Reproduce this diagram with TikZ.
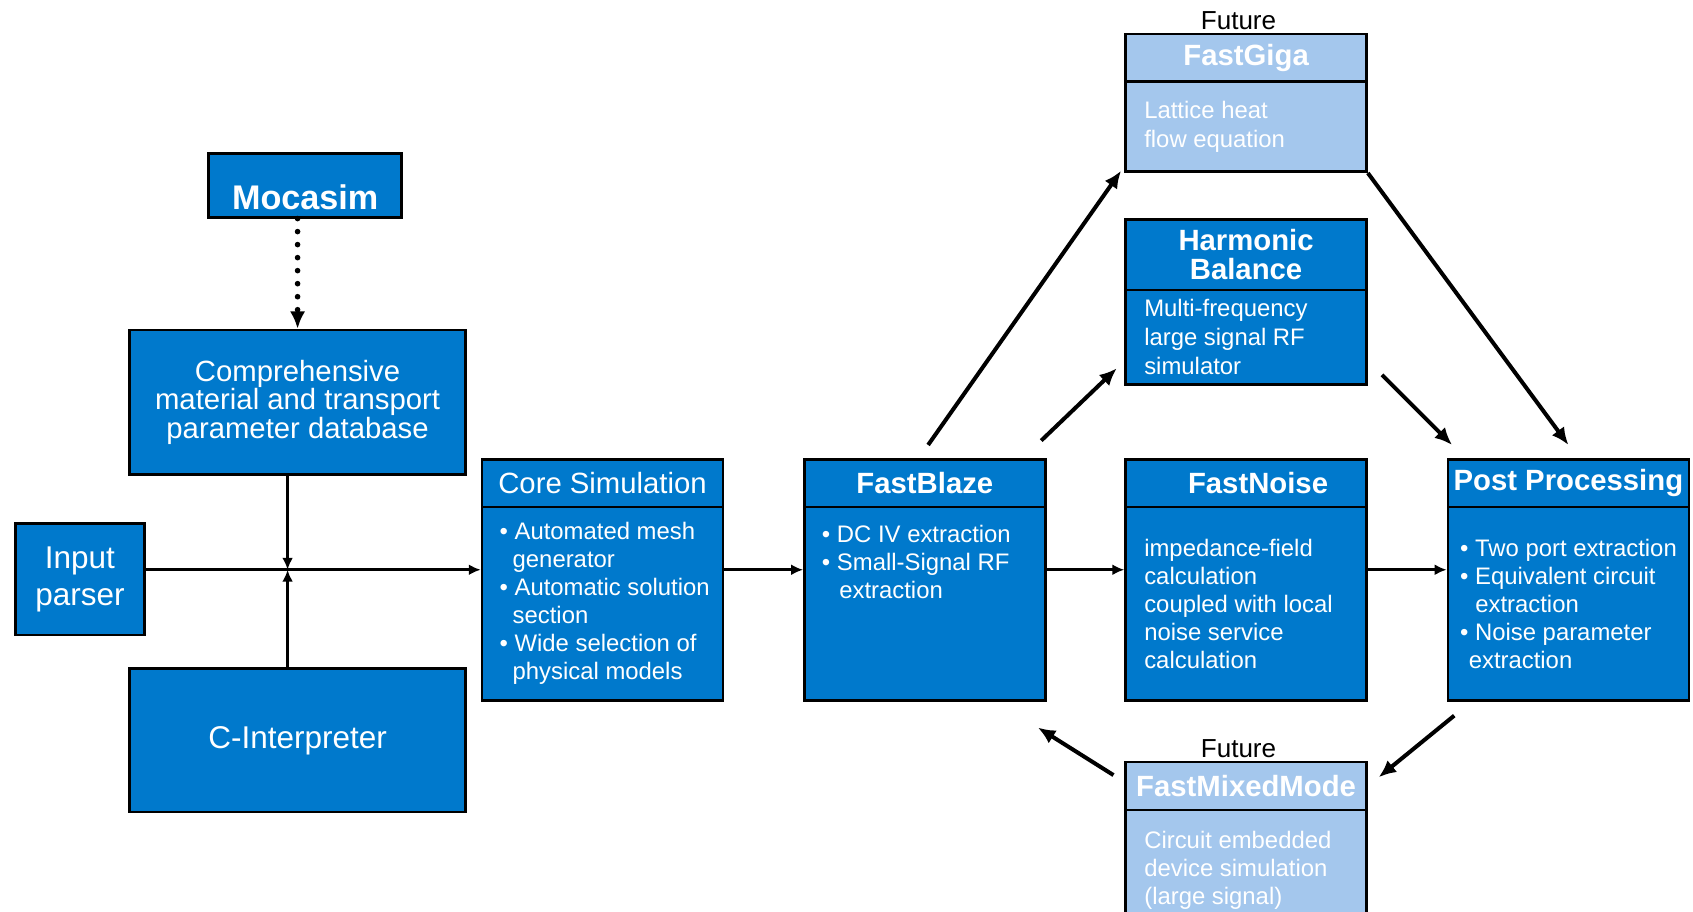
\documentclass[tikz,border=0pt]{standalone}
\usepackage{fontspec}
\setmainfont{Liberation Sans}
\usetikzlibrary{positioning,arrows.meta}

\definecolor{fmBlue}{RGB}{0,121,204}
\definecolor{fmLight}{RGB}{164,199,237}

\tikzset{
  blk/.style={draw=black, line width=1.2pt, fill=fmBlue, text=white, inner sep=0pt, anchor=north west},
  futblk/.style={blk, fill=fmLight},
  ttl/.style={font=\fontsize{13.5}{13.5}\selectfont\bfseries},
  txt/.style={text=white, align=left, inner sep=0pt, font=\fontsize{11}{12.9}\selectfont},
  fut/.style={inner sep=1pt, font=\fontsize{12}{12}\selectfont},
  arr/.style={line width=1.85pt, -{Latex[length=8pt,width=7pt]}},
  thinarr/.style={line width=1.4pt, -{Latex[length=5.5pt,width=5pt]}},
}

\begin{document}
\begin{tikzpicture}[x=0.5pt, y=-0.5pt]
    \useasboundingbox (0,0) rectangle (1560,840);

    % left column
    \node[blk, minimum width=89pt, minimum height=29.5pt, text height=22pt, text depth=0pt,
          font=\fontsize{15.75}{16}\selectfont\bfseries] (mocasim) at (191,140) {Mocasim};
    \node[blk, minimum width=155pt, minimum height=66.5pt, align=center,
          font=\fontsize{13.5}{13.3}\selectfont] (compDb) at (118,303) {Comprehensive\\material and transport\\parameter database};
    \node[blk, minimum width=59.5pt, minimum height=51.5pt, align=center,
          font=\fontsize{14.5}{17}\selectfont] (inParser) at (13,481) {Input\\parser};
    \node[blk, minimum width=155pt, minimum height=66pt,
          font=\fontsize{14.5}{17}\selectfont] (cInterp) at (118,615) {C-Interpreter};

    % core simulation
    \node[blk, minimum width=111pt, minimum height=22pt, font=\fontsize{13.5}{13.5}\selectfont] (coreHead) at (443,422) {Core Simulation};
    \node[blk, minimum width=111pt, minimum height=89pt] (coreBody) at (443,466) {};
    \node[txt, right=8.5pt of coreBody.west] (coreText) {• Automated mesh\\\hspace*{6pt}generator\\• Automatic solution\\\hspace*{6pt}section\\• Wide selection of\\\hspace*{6pt}physical models};

    % FastBlaze
    \node[blk, ttl, minimum width=111pt, minimum height=22pt] (blazeHead) at (740,422) {FastBlaze};
    \node[blk, minimum width=111pt, minimum height=89pt] (blazeBody) at (740,466) {};
    \node[txt, anchor=north west] (blazeText) at ([xshift=8.5pt, yshift=-7.5pt]blazeHead.south west) {• DC IV extraction\\• Small-Signal RF\\\hspace*{8pt}extraction};

    % FastNoise
    \node[blk, ttl, minimum width=111pt, minimum height=22pt] (noiseHead) at (1036,422) {\hspace*{11pt}FastNoise};
    \node[blk, minimum width=111pt, minimum height=89pt] (noiseBody) at (1036,466) {};
    \node[txt, right=9pt of noiseBody.west] (noiseText) {impedance-field\\calculation\\coupled with local\\noise service\\calculation};

    % Post Processing
    \node[blk, ttl, minimum width=111pt, minimum height=22pt] (postHead) at (1333,422) {Post Processing};
    \node[blk, minimum width=111pt, minimum height=89pt] (postBody) at (1333,466) {};
    \node[txt, right=6pt of postBody.west] (postText) {• Two port extraction\\• Equivalent circuit\\\hspace*{7pt}extraction\\• Noise parameter\\\hspace*{4pt}extraction};

    % FastGiga (future)
    \node[futblk, ttl, minimum width=111pt, minimum height=22pt] (gigaHead) at (1036,30) {FastGiga};
    \node[futblk, minimum width=111pt, minimum height=41.5pt] (gigaBody) at (1036,74) {};
    \node[txt, right=9pt of gigaBody.west, font=\fontsize{11}{13.5}\selectfont] (gigaText) {Lattice heat\\flow equation};
    \node[fut, above=0pt of gigaHead, xshift=-3.5pt] (gigaFut) {Future};

    % Harmonic Balance
    \node[blk, ttl, minimum width=111pt, minimum height=32.5pt, align=center] (harmHead) at (1036,201) {Harmonic\\Balance};
    \node[blk, minimum width=111pt, minimum height=43.5pt] (harmBody) at (1036,266) {};
    \node[txt, right=9pt of harmBody.west, font=\fontsize{11}{13.3}\selectfont] (harmText) {Multi-frequency\\large signal RF\\simulator};

    % FastMixedMode (future)
    \node[futblk, ttl, minimum width=111pt, minimum height=22pt] (mixHead) at (1036,701) {FastMixedMode};
    \node[futblk, minimum width=111pt, minimum height=56pt] (mixBody) at (1036,745) {};
    \node[txt, right=9pt of mixBody.west, font=\fontsize{11}{13}\selectfont] (mixText) {Circuit embedded\\device simulation\\(large signal)};
    \node[fut, above=0pt of mixHead, xshift=-3.5pt] (mixFut) {Future};

    % connectors
    \coordinate (junc) at (265,525);
    \draw[line width=2.6pt, dash pattern=on 0pt off 6pt, line cap=round, -{Latex[length=8pt,width=7pt]}] (mocasim.south -| compDb.north) -- (compDb.north);
    \draw[thinarr] (inParser.east |- junc) -- (junc -| coreBody.west);
    \draw[thinarr] (compDb.south -| junc) -- (junc);
    \draw[thinarr] (cInterp.north -| junc) -- (junc);
    \draw[thinarr] (coreBody.east |- junc) -- (blazeBody.west |- junc);
    \draw[thinarr] (blazeBody.east |- junc) -- (noiseBody.west |- junc);
    \draw[thinarr] (noiseBody.east |- junc) -- (postBody.west |- junc);

    \draw[arr] ([xshift=1.5pt, yshift=6pt]blazeHead.north) -- ([xshift=-1.5pt, yshift=1pt]gigaBody.south west);
    \draw[arr] ([xshift=-2.5pt, yshift=8pt]blazeHead.north east) -- ([xshift=-3.5pt, yshift=8pt]harmBody.south west);
    \draw[arr] (gigaBody.south east) -- ([yshift=6pt]postHead.north);
    \draw[arr] ([xshift=6.5pt, yshift=5pt]harmBody.south east) -- ([xshift=2.5pt, yshift=6pt]postHead.north west);
    \draw[arr] ([xshift=3.5pt, yshift=-6.5pt]postBody.south west) -- ([xshift=5pt, yshift=4pt]mixHead.east);
    \draw[arr] ([xshift=-5pt, yshift=5pt]mixHead.west) -- ([xshift=-4pt, yshift=-12pt]blazeBody.south east);
\end{tikzpicture}
\end{document}
